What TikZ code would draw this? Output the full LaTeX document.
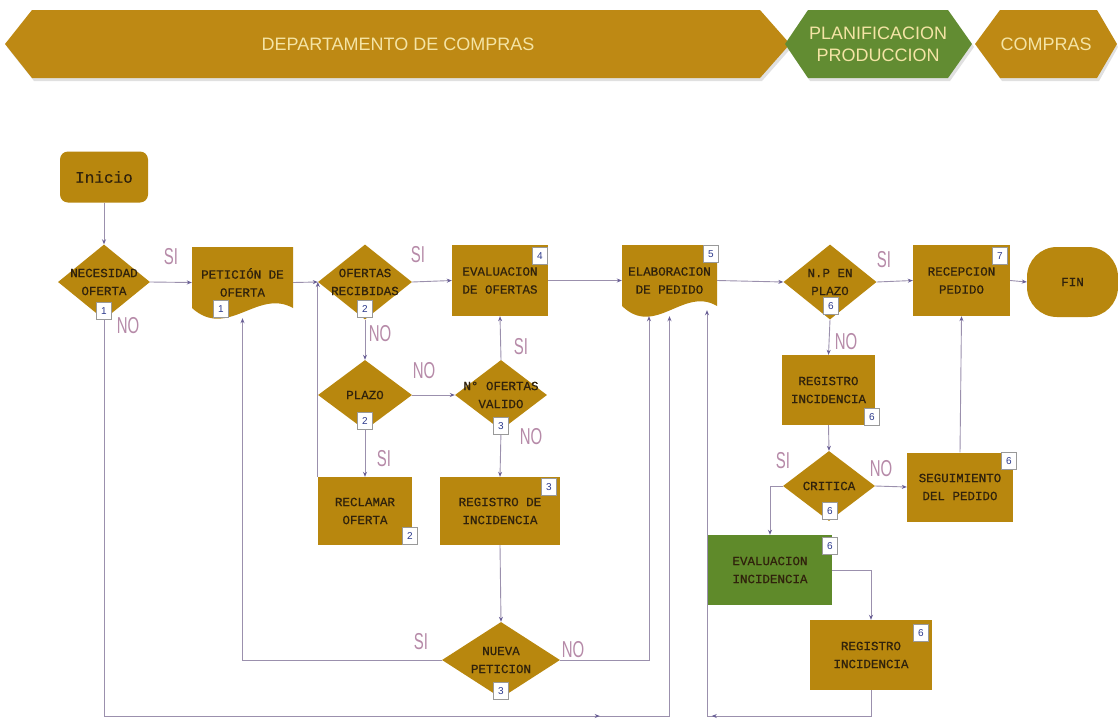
\documentclass[tikz,border=0pt]{standalone}
\usepackage{fontspec}
\setmainfont{Liberation Sans}
\newfontfamily\monofont[FakeBold=0.4]{Liberation Mono}
\usetikzlibrary{shapes.geometric,arrows.meta,calc,decorations.markings}

\definecolor{gold}{RGB}{184,135,14}
\definecolor{bannergold}{RGB}{190,137,20}
\definecolor{leaf}{RGB}{95,138,42}
\definecolor{bannerleaf}{RGB}{98,140,50}
\definecolor{cream}{RGB}{244,228,165}
\definecolor{ink}{RGB}{48,34,12}
\definecolor{wire}{RGB}{155,144,173}
\definecolor{tipc}{RGB}{105,95,150}
\definecolor{answer}{RGB}{182,138,168}
\definecolor{tagink}{RGB}{45,58,140}

\tikzset{
  txt/.style={font=\monofont\fontsize{12.5}{18}\selectfont, text=ink, align=center, inner sep=0pt},
  box/.style={rectangle, fill=gold, inner sep=0pt, txt},
  greenbox/.style={rectangle, fill=leaf, inner sep=0pt, txt},
  dia/.style={diamond, fill=gold, inner sep=0pt},
  terminal/.style={rectangle, fill=gold, inner sep=0pt, txt},
  docbox/.style={rectangle, inner sep=0pt, txt,
    path picture={
      \coordinate (sw) at (path picture bounding box.south west);
      \coordinate (se) at (path picture bounding box.south east);
      \fill[gold] (path picture bounding box.north west)
        -- ($(sw)+(0,-10)$)
        .. controls ($(sw)!0.35!(se)+(0,22)$) and ($(sw)!0.65!(se)+(0,-30)$) .. ($(se)+(0,-10)$)
        -- (path picture bounding box.north east)
        -- cycle;
    }},
  tag/.style={rectangle, fill=white, draw=black!40, line width=0.5pt,
    minimum width=15pt, minimum height=17pt, inner sep=0pt,
    font=\fontsize{10}{10}\selectfont, text=tagink},
  yn/.style={font=\fontsize{23}{23}\selectfont, text=answer, xscale=0.65, inner sep=0pt},
  bannertext/.style={font=\fontsize{18}{22}\selectfont, text=cream, align=center, inner sep=0pt},
  arr/.style={draw=wire, line width=0.9pt, -{Stealth[length=5pt,width=4pt,color=tipc]}},
  midtip/.style={postaction={decorate}, decoration={markings,
    mark=at position #1 with {\arrow{Stealth[length=5pt,width=4pt,color=tipc]}}}}
}

\begin{document}
\begin{tikzpicture}[x=1pt,y=-1pt]
\useasboundingbox (0,0) rectangle (1118,720);
\fill[white] (0,0) rectangle (1118,720);

% ---- header banners ----
\fill[black!12] (7,47) -- (34,13) -- (762,13) -- (792,47) -- (762,81) -- (34,81) -- cycle;
\fill[bannergold] (5,44) -- (32,10) -- (760,10) -- (790,44) -- (760,78) -- (32,78) -- cycle;
\node[bannertext] (hdept) at (398,44) {DEPARTAMENTO DE COMPRAS};

\fill[black!12] (787,47) -- (810,13) -- (950,13) -- (974,47) -- (950,81) -- (810,81) -- cycle;
\fill[bannerleaf] (785,44) -- (808,10) -- (948,10) -- (972,44) -- (948,78) -- (808,78) -- cycle;
\node[bannertext] (hplan) at (878,44) {PLANIFICACION\\PRODUCCION};

\fill[black!12] (977,47) -- (1002,13) -- (1099,13) -- (1118,47) -- (1099,81) -- (1002,81) -- cycle;
\fill[bannergold] (975,44) -- (1000,10) -- (1097,10) -- (1117,44) -- (1097,78) -- (1000,78) -- cycle;
\node[bannertext] (hcomp) at (1046,44) {COMPRAS};

% ---- flowchart nodes ----
\node[terminal, rounded corners=8pt, minimum width=88pt, minimum height=51pt,
      font=\monofont\fontsize{16}{16}\selectfont] (inicio) at (104,177) {Inicio};

\node[dia, minimum width=92pt, minimum height=75pt,
      label={[txt]center:{NECESIDAD\\OFERTA}}] (d1) at (104,282) {};
\node[docbox, minimum width=101pt, minimum height=71pt] (p1) at (242.5,282.5) {PETICIÓN DE\\OFERTA};
\node[dia, minimum width=94pt, minimum height=75pt,
      label={[txt]center:{OFERTAS\\RECIBIDAS}}] (d2) at (365,282) {};
\node[box, minimum width=96pt, minimum height=71pt] (r1) at (500,280.5) {EVALUACION\\DE OFERTAS};
\node[docbox, minimum width=95pt, minimum height=71pt] (p2) at (669.5,280.5) {ELABORACION\\DE PEDIDO};
\node[dia, minimum width=93pt, minimum height=75pt,
      label={[txt]center:{N.P EN\\PLAZO}}] (d6) at (830,282) {};
\node[box, minimum width=97pt, minimum height=71pt] (r4) at (961.5,280.5) {RECEPCION\\PEDIDO};
\node[terminal, rounded corners=30pt, minimum width=91pt, minimum height=70pt] (fin) at (1072.5,282) {FIN};

\node[dia, minimum width=94pt, minimum height=70pt,
      label={[txt]center:PLAZO}] (d3) at (365,395) {};
\node[dia, minimum width=92pt, minimum height=70pt,
      label={[txt]center:{N° OFERTAS\\VALIDO}}] (d4) at (501,395) {};
\node[box, minimum width=94pt, minimum height=68pt] (r2) at (365,511) {RECLAMAR\\OFERTA};
\node[box, minimum width=120pt, minimum height=68pt] (r3) at (500,511) {REGISTRO DE\\INCIDENCIA};
\node[dia, minimum width=118pt, minimum height=76pt,
      label={[txt]center:{NUEVA\\PETICION}}] (d5) at (501,660) {};

\node[box, minimum width=93pt, minimum height=70pt] (r5) at (828.5,390) {REGISTRO\\INCIDENCIA};
\node[dia, minimum width=92pt, minimum height=70pt,
      label={[txt]center:CRITICA}] (d7) at (829,486) {};
\node[box, minimum width=106pt, minimum height=69pt] (r6) at (960,487) {SEGUIMIENTO\\DEL PEDIDO};
\node[greenbox, minimum width=124pt, minimum height=70pt] (r7) at (770,570) {EVALUACION\\INCIDENCIA};
\node[box, minimum width=122pt, minimum height=70pt] (r8) at (871,655) {REGISTRO\\INCIDENCIA};

% ---- helper points for the long return lines ----
\coordinate (b1) at (p2.south |- 0,716);
\coordinate (p2r) at ($(p2.south)+(37.5,-6)$);
\coordinate (b2) at (p2r |- 0,716);
\coordinate (p2l) at ($(p2.south)+(-20.5,0)$);

% ---- connectors ----
\draw[arr] (inicio.south) -- (d1.north);
\draw[arr] (d1.east) -- (p1.west);
\draw[arr] (p1.east) -- (d2.west);
\draw[arr] (d2.east) -- (r1.west);
\draw[arr] (r1.east) -- (p2.west);
\draw[arr] (p2.east) -- (d6.west);
\draw[arr] (d6.east) -- (r4.west);
\draw[arr] (r4.east) -- (fin.west);

\draw[arr] (d2.south) -- (d3.north);
\draw[arr] (d3.east) -- (d4.west);
\draw[arr] (d4.north) -- (r1.south);
\draw[arr] (d4.south) -- (r3.north);
\draw[arr] (d3.south) -- (r2.north);
\draw[arr] (r2.north west) -- (d2.west);
\draw[arr] (r3.south) -- (d5.north);
\draw[arr] (d5.west) -| (p1.south);
\draw[arr] (d5.east) -| (p2l);
\draw[arr, midtip=892pt] (d1.south) |- (b1) -- (p2.south);

\draw[arr] (d6.south) -- (r5.north);
\draw[arr] (r5.south) -- (d7.north);
\draw[arr] (d7.east) -- (r6.west);
\draw[arr] (r6.north) -- (r4.south);
\draw[arr] (d7.west) -| (r7.north);
\draw[arr] (r7.east) -| (r8.north);
\draw[arr, midtip=185pt] (r8.south) |- (b2) -- (p2r);

% ---- answer labels ----
\node[yn] (s1) at (171,257) {SI};
\node[yn] (n1) at (128,326) {NO};
\node[yn] (s2) at (418,255) {SI};
\node[yn] (n2) at (380,334) {NO};
\node[yn] (n3) at (424,371) {NO};
\node[yn] (s3) at (521,347) {SI};
\node[yn] (n4) at (531,437) {NO};
\node[yn] (s4) at (384,459) {SI};
\node[yn] (s5) at (421,642) {SI};
\node[yn] (n5) at (573,650) {NO};
\node[yn] (s6) at (884,260) {SI};
\node[yn] (n6) at (846,342) {NO};
\node[yn] (s7) at (783,461) {SI};
\node[yn] (n7) at (881,469) {NO};

% ---- step tags ----
\node[tag] (t1) at (104,311) {1};
\node[tag] (t2) at (221,309) {1};
\node[tag] (t3) at (365,309) {2};
\node[tag] (t4) at (540,256) {4};
\node[tag] (t5) at (365,421) {2};
\node[tag] (t6) at (501,426) {3};
\node[tag] (t7) at (410,536) {2};
\node[tag] (t8) at (549,487) {3};
\node[tag] (t9) at (501,691) {3};
\node[tag] (t10) at (711,254) {5};
\node[tag] (t11) at (831,306) {6};
\node[tag] (t12) at (872,417) {6};
\node[tag] (t13) at (1000,256) {7};
\node[tag] (t14) at (1009,461) {6};
\node[tag] (t15) at (830,511) {6};
\node[tag] (t16) at (830,546) {6};
\node[tag] (t17) at (921,633) {6};
\end{tikzpicture}
\end{document}
